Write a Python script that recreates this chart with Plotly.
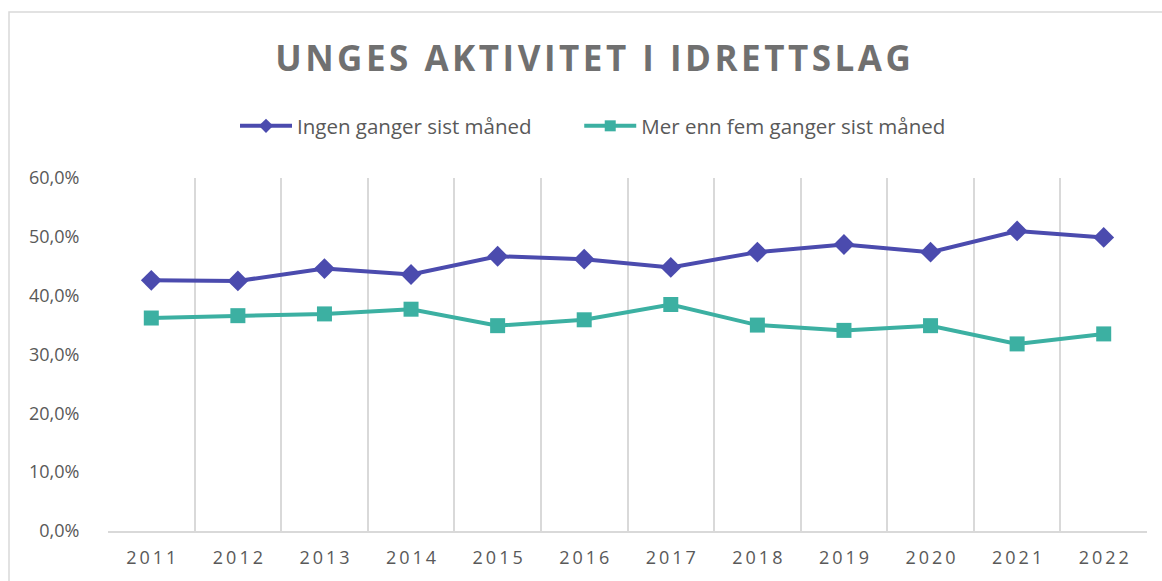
import plotly.graph_objects as go

years = ["2011", "2012", "2013", "2014", "2015", "2016", "2017", "2018", "2019", "2020", "2021", "2022"]
ingen = [42.6, 42.5, 44.6, 43.6, 46.7, 46.2, 44.8, 47.4, 48.7, 47.4, 51.0, 49.9]
mer_enn_fem = [36.2, 36.6, 36.9, 37.7, 34.9, 35.9, 38.5, 35.0, 34.1, 34.9, 31.8, 33.5]
y_ticks = [0, 10, 20, 30, 40, 50, 60]
title_text = "UNGES AKTIVITET I IDRETTSLAG"
names = ["Ingen ganger sist måned", "Mer enn fem ganger sist måned"]

HS = "\u200a"
TS = "\u2009"
NB = "\u00a0"

def spaced(s, sep):
    return sep.join(list(s))

PURPLE = "#4b4bae"
TEAL = "#3cb0a2"
GREY = "#595959"

fig = go.Figure()
for name, vals, col, sym, size in [
    (names[0], ingen, PURPLE, "diamond", 16),
    (names[1], mer_enn_fem, TEAL, "square", 15),
]:
    fig.add_trace(go.Scatter(
        x=years, y=vals, name=name, mode="lines+markers", showlegend=False,
        line=dict(color=col, width=4),
        marker=dict(symbol=sym, size=size, color=col),
    ))
for name, col, sym, size in [
    (names[0] + NB * 8, PURPLE, "diamond", 11),
    (names[1], TEAL, "square", 11),
]:
    fig.add_trace(go.Scatter(
        x=[years[0]], y=[None], name=name, mode="lines+markers",
        line=dict(color=col, width=4),
        marker=dict(symbol=sym, size=size, color=col),
    ))

L, R, T, B = 108, 15, 178, 50
W, H = 1162, 581
pw, ph = W - L - R, H - T - B

fig.update_layout(
    width=W, height=H,
    margin=dict(l=L, r=R, t=T, b=B, autoexpand=False),
    paper_bgcolor="white", plot_bgcolor="white",
    font=dict(family="Open Sans", color=GREY),
    title=dict(
        text="<b>" + (HS + " " + HS).join(spaced(w, HS) for w in title_text.split(" ")) + "</b>",
        x=593 / W, xref="container", xanchor="center",
        y=1 - 59 / H, yref="container", yanchor="middle",
        font=dict(size=35, color="#707070", family="Open Sans"),
    ),
    legend=dict(
        orientation="h", x=(593 - L) / pw, xanchor="center",
        y=(H - B - 126) / ph, yanchor="middle",
        font=dict(size=20.5, color=GREY),
        itemwidth=52,
    ),
    showlegend=True,
    xaxis=dict(
        type="category",
        range=[-0.5, 11.5],
        tickson="boundaries",
        automargin=False,
        showgrid=True, gridcolor="#d9d9d9", gridwidth=1.5,
        showline=True, linecolor="#d9d9d9", linewidth=1.5,
        ticks="", ticklabelstandoff=10,
        tickvals=years, ticktext=[spaced(y, TS) for y in years],
        tickfont=dict(size=18, color=GREY),
        zeroline=False,
    ),
    yaxis=dict(
        range=[0, 60],
        automargin=False,
        tickvals=y_ticks,
        ticktext=[f"{v:.1f}".replace(".", ",") + "%" for v in y_ticks],
        showgrid=False, zeroline=False, showline=False,
        ticks="outside", ticklen=24, tickcolor="rgba(0,0,0,0)",
        tickfont=dict(size=18, color=GREY),
    ),
    shapes=[dict(
        type="rect", xref="paper", yref="paper",
        x0=(9 - L) / pw, x1=(W + 10 - L) / pw,
        y0=(H - B - (H + 10)) / ph, y1=(H - B - 12) / ph,
        line=dict(color="#d9d9d9", width=1.5), fillcolor="rgba(0,0,0,0)",
        layer="below",
    )],
)

fig.write_html("out.html", config={"displayModeBar": False})
with open("out.html", "r", encoding="utf-8") as f:
    html = f.read()
html = html.replace("<head>", "<head><style>html,body{margin:0;padding:0;overflow:hidden;}</style>", 1)
with open("out.html", "w", encoding="utf-8") as f:
    f.write(html)
